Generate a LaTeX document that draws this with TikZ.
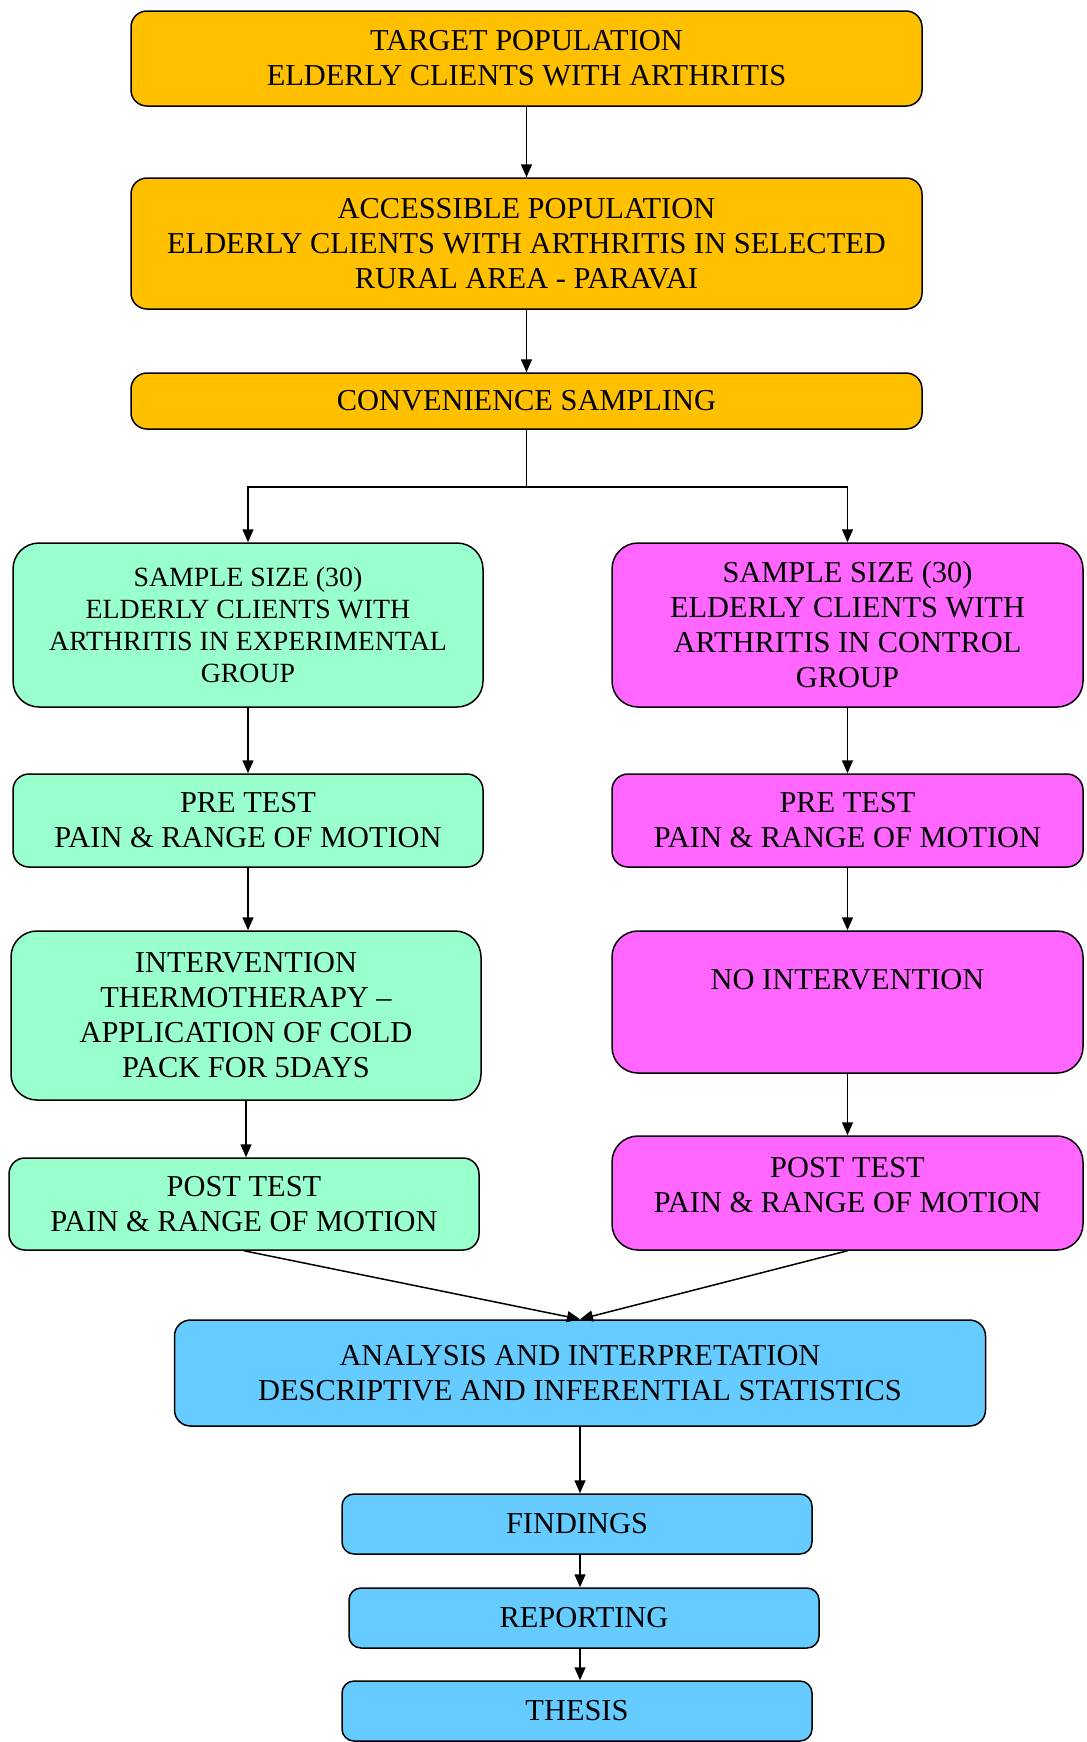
\documentclass[tikz,border=0pt]{standalone}
\usepackage{fontspec}
\setmainfont{Liberation Serif}
\usetikzlibrary{arrows.meta}
\definecolor{popgold}{RGB}{255,192,0}
\definecolor{expgreen}{RGB}{153,255,204}
\definecolor{ctrlpink}{RGB}{255,102,255}
\definecolor{anablue}{RGB}{102,204,255}

\begin{document}
\begin{tikzpicture}[x=0.5pt, y=0.5pt, line width=0.75pt,
  box/.style={draw, rounded corners=8pt, align=center, inner sep=0pt,
    font=\fontsize{15.2}{17.5}\selectfont},
  arr/.style={-{Triangle[length=6.5pt,width=5.5pt]}}]
  \useasboundingbox (0,0) rectangle (1087,-1742);

  % --- population and sampling (top column) ---
  \node[box, fill=popgold, minimum width=395.5pt, minimum height=47.5pt]
    (target) at (526.5,-58.5) {TARGET POPULATION\\ELDERLY CLIENTS WITH ARTHRITIS};
  \node[box, fill=popgold, minimum width=395.5pt, minimum height=65.5pt]
    (access) at (526.5,-243.5) {ACCESSIBLE POPULATION\\ELDERLY CLIENTS WITH ARTHRITIS IN SELECTED\\RURAL AREA - PARAVAI};
  \node[box, fill=popgold, minimum width=395.5pt, minimum height=28pt]
    (conv) at (526.5,-401) {CONVENIENCE SAMPLING};
  \coordinate (split) at (526.5,-487);

  % --- experimental group (left column) ---
  \node[box, fill=expgreen, rounded corners=13pt, minimum width=235pt, minimum height=82pt,
    font=\fontsize{13.9}{15.9}\selectfont]
    (sampE) at (248,-625) {SAMPLE SIZE (30)\\ELDERLY CLIENTS WITH\\ARTHRITIS IN EXPERIMENTAL\\GROUP};
  \node[box, fill=expgreen, minimum width=235pt, minimum height=46.5pt]
    (preE) at (248,-820.5) {PRE TEST\\PAIN \& RANGE OF MOTION};
  \node[box, fill=expgreen, rounded corners=13pt, minimum width=235pt, minimum height=84.5pt]
    (intE) at (246,-1015.5) {INTERVENTION\\THERMOTHERAPY --\\APPLICATION OF COLD\\PACK FOR 5DAYS};
  \node[box, fill=expgreen, minimum width=235pt, minimum height=46pt]
    (postE) at (244,-1204) {POST TEST\\PAIN \& RANGE OF MOTION};

  % --- control group (right column) ---
  \node[box, fill=ctrlpink, rounded corners=13pt, minimum width=235.5pt, minimum height=82pt]
    (sampC) at (847.5,-625) {SAMPLE SIZE (30)\\ELDERLY CLIENTS WITH\\ARTHRITIS IN CONTROL\\GROUP};
  \node[box, fill=ctrlpink, minimum width=235.5pt, minimum height=46.5pt]
    (preC) at (847.5,-820.5) {PRE TEST\\PAIN \& RANGE OF MOTION};
  \node[box, fill=ctrlpink, rounded corners=13pt, minimum width=235.5pt, minimum height=71pt]
    (noint) at (847.5,-1002) {NO INTERVENTION\\\strut};
  \node[box, fill=ctrlpink, rounded corners=13pt, minimum width=235.5pt, minimum height=57pt,
    text depth=8pt]
    (postC) at (847.5,-1193) {POST TEST\\PAIN \& RANGE OF MOTION};

  % --- analysis and reporting (bottom column) ---
  \node[box, fill=anablue, minimum width=405.5pt, minimum height=53pt]
    (anal) at (580,-1373) {ANALYSIS AND INTERPRETATION\\DESCRIPTIVE AND INFERENTIAL STATISTICS};
  \node[box, fill=anablue, rounded corners=6pt, minimum width=235pt, minimum height=30pt]
    (find) at (577,-1524) {FINDINGS};
  \node[box, fill=anablue, rounded corners=6pt, minimum width=235pt, minimum height=30pt]
    (report) at (584,-1618) {REPORTING};
  \node[box, fill=anablue, rounded corners=6pt, minimum width=235pt, minimum height=30pt]
    (thesis) at (577,-1711) {THESIS};

  % === connectors ===
  \draw[arr] (target) -- (access);
  \draw[arr] (access) -- (conv);
  \draw (conv) -- (split);
  \draw[arr] (split) -| (sampE);
  \draw[arr] (split) -| (sampC);

  \draw[arr] (sampE) -- (preE);
  \draw[arr] (preE.south) -- (preE.south |- intE.north);
  \draw[arr] (intE.south) -- (intE.south |- postE.north);

  \draw[arr] (sampC) -- (preC);
  \draw[arr] (preC) -- (noint);
  \draw[arr] (noint) -- (postC);

  % both post tests meet on top of the analysis box
  \draw[arr] (postE.south) -- (anal.north);
  \draw[arr] (postC.south) -- (anal.north);

  \draw[arr] (anal.south) -- (anal.south |- find.north);
  \draw[arr] (find.south -| anal.south) -- (report.north -| anal.south);
  \draw[arr] (report.south -| anal.south) -- (thesis.north -| anal.south);
\end{tikzpicture}
\end{document}
